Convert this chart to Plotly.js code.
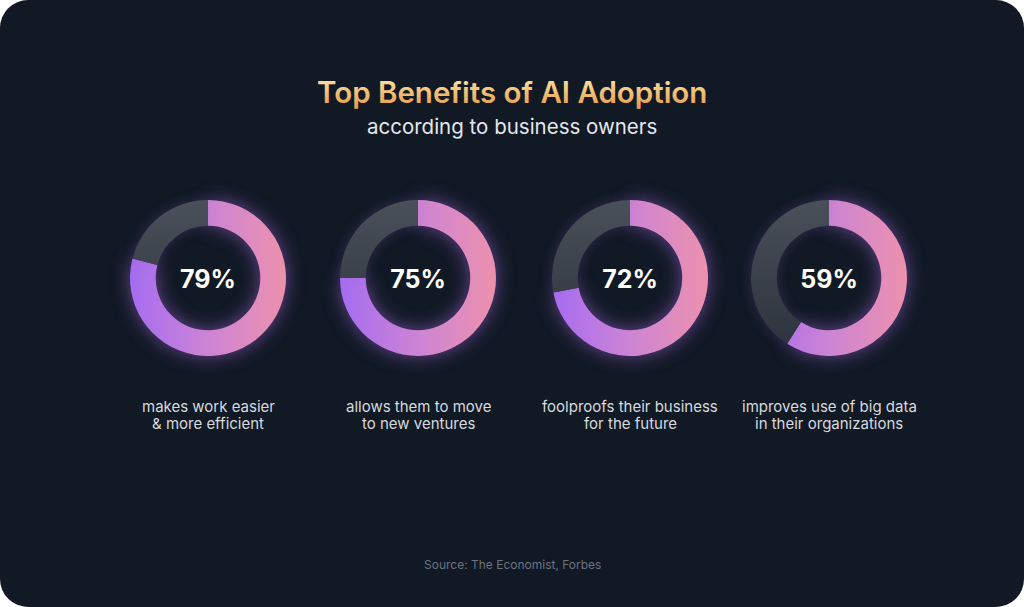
<!DOCTYPE html>
<html>
<head>
<meta charset="utf-8">
<script src="https://cdn.plot.ly/plotly-3.0.1.min.js"></script>
<style>
  html, body { margin:0; padding:0; background:#ffffff; }
  #wrap { width:1024px; height:607px; border-radius:28px; overflow:hidden; background:#111925; }
  #chart { width:1024px; height:607px; }
</style>
</head>
<body>
<div id="wrap"><div id="chart"></div></div>
<script>
// ---- data ----
const categories = [
  "makes work easier<br>& more efficient",
  "allows them to move<br>to new ventures",
  "foolproofs their business<br>for the future",
  "improves use of big data<br>in their organizations"
];
const percents = [79, 75, 72, 59];
const titleText = "Top Benefits of AI Adoption";
const subtitleText = "according to business owners";
const sourceText = "Source: The Economist, Forbes";

// ---- layout geometry (pixels) ----
const W = 1024, H = 607;
const centersX = [208, 418, 630, 829];
const centerY = 278;
const R = 78;

const traces = percents.map((p, i) => ({
  type: 'pie',
  values: [p, 100 - p],
  sort: false,
  direction: 'clockwise',
  rotation: 0,
  hole: 0.67,
  textinfo: 'none',
  hoverinfo: 'none',
  showlegend: false,
  marker: { colors: ['#c77fd8', '#3a404a'], line: { width: 0 } },
  title: { text: p + '%', position: 'middle center',
           font: { family: 'Inter, sans-serif', size: 25, color: '#ffffff', weight: 700 } },
  domain: {
    x: [(centersX[i] - R) / W, (centersX[i] + R) / W],
    y: [(H - centerY - R) / H, (H - centerY + R) / H]
  }
}));

function ann(text, xpx, ypx, font) {
  return { text: text, x: xpx / W, y: 1 - ypx / H, xref: 'paper', yref: 'paper',
           xanchor: 'center', yanchor: 'middle', showarrow: false, align: 'center', font: font };
}
const annotations = [
  ann(titleText, 512, 92, { family: 'Inter, sans-serif', size: 29.5, color: '#f2c071', weight: 600 }),
  ann(subtitleText, 512, 126, { family: 'Inter, sans-serif', size: 20.5, color: '#e5e7eb' }),
  ann(sourceText, 512, 564, { family: 'Inter, sans-serif', size: 12, color: '#6b7280' })
];
categories.forEach((c, i) => {
  c.split('<br>').forEach((line, j) => {
    annotations.push(ann(line, centersX[i], 406 + j * 17.5,
      { family: 'Inter, sans-serif', size: 15, color: '#d6d9de' }));
  });
});

const layout = {
  width: W, height: H,
  margin: { l: 0, r: 0, t: 0, b: 0 },
  paper_bgcolor: 'rgba(0,0,0,0)',
  plot_bgcolor: 'rgba(0,0,0,0)',
  annotations: annotations
};

Plotly.newPlot('chart', traces, layout, { displayModeBar: false, staticPlot: true }).then(gd => {
  const svgNS = 'http://www.w3.org/2000/svg';
  const svg = gd.querySelector('svg.main-svg');
  let defs = svg.querySelector('defs');
  if (!defs) { defs = document.createElementNS(svgNS, 'defs'); svg.insertBefore(defs, svg.firstChild); }
  function grad(id, attrs, stops) {
    const g = document.createElementNS(svgNS, 'linearGradient');
    g.setAttribute('id', id);
    for (const k in attrs) g.setAttribute(k, attrs[k]);
    stops.forEach(s => {
      const st = document.createElementNS(svgNS, 'stop');
      st.setAttribute('offset', s[0]); st.setAttribute('stop-color', s[1]);
      g.appendChild(st);
    });
    defs.appendChild(g);
  }
  const tracesG = gd.querySelectorAll('.pielayer .trace');
  tracesG.forEach((tg, i) => {
    const cx = centersX[i];
    grad('fillg' + i, { gradientUnits: 'userSpaceOnUse', x1: cx - R, y1: 0, x2: cx + R, y2: 0 },
      [['0', '#a56cf1'], ['0.5', '#cd84d4'], ['1', '#ec91ad']]);
    grad('trackg' + i, { gradientUnits: 'userSpaceOnUse', x1: 0, y1: centerY - R, x2: 0, y2: centerY + R },
      [['0', '#4a505a'], ['1', '#2c323b']]);
    const paths = tg.querySelectorAll('.slice path.surface');
    if (paths[0]) {
      paths[0].style.fill = 'url(#fillg' + i + ')';
      paths[0].style.filter = 'drop-shadow(0 0 9px rgba(175,105,235,0.55))';
    }
    if (paths[1]) {
      paths[1].style.fill = 'url(#trackg' + i + ')';
      paths[1].style.filter = 'drop-shadow(0 0 6px rgba(150,100,210,0.25))';
    }
  });
  const annTexts = gd.querySelectorAll('.annotation-text-g text');
  if (annTexts[0]) {
    grad('titleg', { gradientUnits: 'objectBoundingBox', x1: 0, y1: 0, x2: 0, y2: 1 },
      [['0.2', '#f9dc96'], ['0.85', '#e9a255']]);
    annTexts[0].style.fill = 'url(#titleg)';
  }
});
</script>
</body>
</html>
